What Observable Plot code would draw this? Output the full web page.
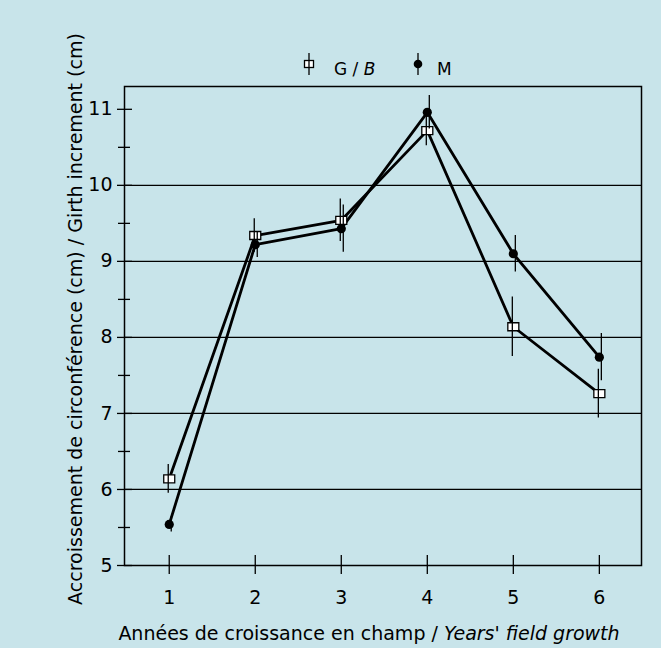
<!DOCTYPE html>
<html><head><meta charset="utf-8">
<script src="https://cdn.jsdelivr.net/npm/d3@7"></script>
<script src="https://cdn.jsdelivr.net/npm/@observablehq/plot@0.6"></script>
<style>body{margin:0;background:#c8e4ea;} #chart{width:661px;height:648px;}</style>
</head><body><div id="chart"></div>
<script>
// ---- data ----
const years = [1, 2, 3, 4, 5, 6];
const seriesNames = ["G / B", "M"];
const gbValues = [6.14, 9.34, 9.54, 10.72, 8.14, 7.26];
const gbErrors = [0.19, 0.22, 0.28, 0.20, 0.39, 0.32];
const mValues = [5.54, 9.22, 9.43, 10.96, 9.10, 7.74];
const mErrors = [0.10, 0.17, 0.31, 0.22, 0.24, 0.31];
const yMajorTicks = [5, 6, 7, 8, 9, 10, 11];
const yMinorTicks = [5.5, 6.5, 7.5, 8.5, 9.5, 10.5];
const yGridValues = [6, 7, 8, 9, 10];
const yLabel = "Accroissement de circonférence (cm) / Girth increment (cm)";
const xLabelFr = "Années de croissance en champ / ";
const xLabelEn = "Years' field growth";

const rows = years.flatMap((yr, i) => [
  {year: yr, series: seriesNames[0], value: gbValues[i], err: gbErrors[i]},
  {year: yr, series: seriesNames[1], value: mValues[i], err: mErrors[i]}
]);
const gbRows = rows.filter(d => d.series === seriesNames[0]);
const mRows = rows.filter(d => d.series === seriesNames[1]);

const font = "'DejaVu Sans', sans-serif";
const bg = "#c8e4ea";
const rectSymbol = {draw(ctx) { ctx.moveTo(-5.5, -4); ctx.lineTo(5.5, -4); ctx.lineTo(5.5, 4); ctx.lineTo(-5.5, 4); ctx.closePath(); }};

const plot = Plot.plot({
  width: 661, height: 648,
  marginTop: 86, marginLeft: 124, marginRight: 20, marginBottom: 83,
  style: {background: bg, fontFamily: font, fontSize: "19px", color: "black"},
  x: {domain: [0.48, 6.49]},
  y: {domain: [5, 11.3]},
  marks: [
    Plot.gridY(yGridValues, {stroke: "black", strokeOpacity: 1, strokeWidth: 1.3}),
    Plot.axisY(yMajorTicks, {tickSize: 15, dx: 8, fill: "none", label: null, strokeWidth: 1.3}),
    Plot.axisY(yMinorTicks, {tickSize: 12, dx: 6, fill: "none", label: null, strokeWidth: 1.3}),
    Plot.axisY(yMajorTicks, {tickSize: 0, stroke: "none", tickPadding: 12, label: null, tickFormat: d => String(d), fontSize: 19}),
    Plot.axisX(years, {tickSize: 19, dy: -10, fill: "none", label: null, strokeWidth: 1.3}),
    Plot.axisX(years, {tickSize: 0, stroke: "none", tickPadding: 25, label: null, tickFormat: d => String(d), fontSize: 19}),
    Plot.frame({stroke: "black", strokeWidth: 1.5}),
    Plot.line(rows, {x: "year", y: "value", z: "series", stroke: "black", strokeWidth: 2.8}),
    Plot.dot(gbRows, {x: "year", y: "value", symbol: rectSymbol, fill: "white", stroke: "black", strokeWidth: 1.3}),
    Plot.dot(mRows, {x: "year", y: "value", r: 4.6, fill: "black"}),
    Plot.ruleX(gbRows, {x: "year", y1: d => d.value - d.err, y2: d => d.value + d.err, stroke: "black", strokeWidth: 1.3, dx: -1}),
    Plot.ruleX(mRows, {x: "year", y1: d => d.value - d.err, y2: d => d.value + d.err, stroke: "black", strokeWidth: 1.3, dx: 2}),
    Plot.text([yLabel], {frameAnchor: "left", textAnchor: "middle", rotate: -90, dx: -49, dy: -7, fontSize: 19})
  ]
});

const svg = d3.select(plot);
// x axis label with italic English part
const xl = svg.append("text").attr("x", 369).attr("y", 640).attr("text-anchor", "middle")
  .attr("font-family", font).attr("font-size", 19).attr("fill", "black");
xl.append("tspan").text(xLabelFr);
xl.append("tspan").attr("font-style", "italic").text(xLabelEn);

// legend
const leg = svg.append("g").attr("font-family", font).attr("font-size", 17).attr("fill", "black").attr("text-anchor", "start");
const items = [{name: seriesNames[0], x: 309}, {name: seriesNames[1], x: 418}];
items.forEach((it, i) => {
  const g = leg.append("g").attr("transform", `translate(${it.x},64)`);
  if (i === 0) {
    g.append("rect").attr("x", -4.5).attr("y", -3.5).attr("width", 9).attr("height", 7).attr("fill", "white").attr("stroke", "black").attr("stroke-width", 1.3);
  } else {
    g.append("circle").attr("r", 4.3).attr("fill", "black");
  }
  g.append("line").attr("y1", -11).attr("y2", 11).attr("stroke", "black").attr("stroke-width", 1.3);
  const t = g.append("text").attr("x", i === 0 ? 25 : 19).attr("y", 11);
  if (i === 0) {
    const parts = it.name.split("/");
    t.append("tspan").text(parts[0] + "/ ");
    t.append("tspan").attr("font-style", "italic").text(parts[1].trim());
  } else {
    t.text(it.name);
  }
});

document.getElementById("chart").appendChild(plot);
</script>
</body></html>
